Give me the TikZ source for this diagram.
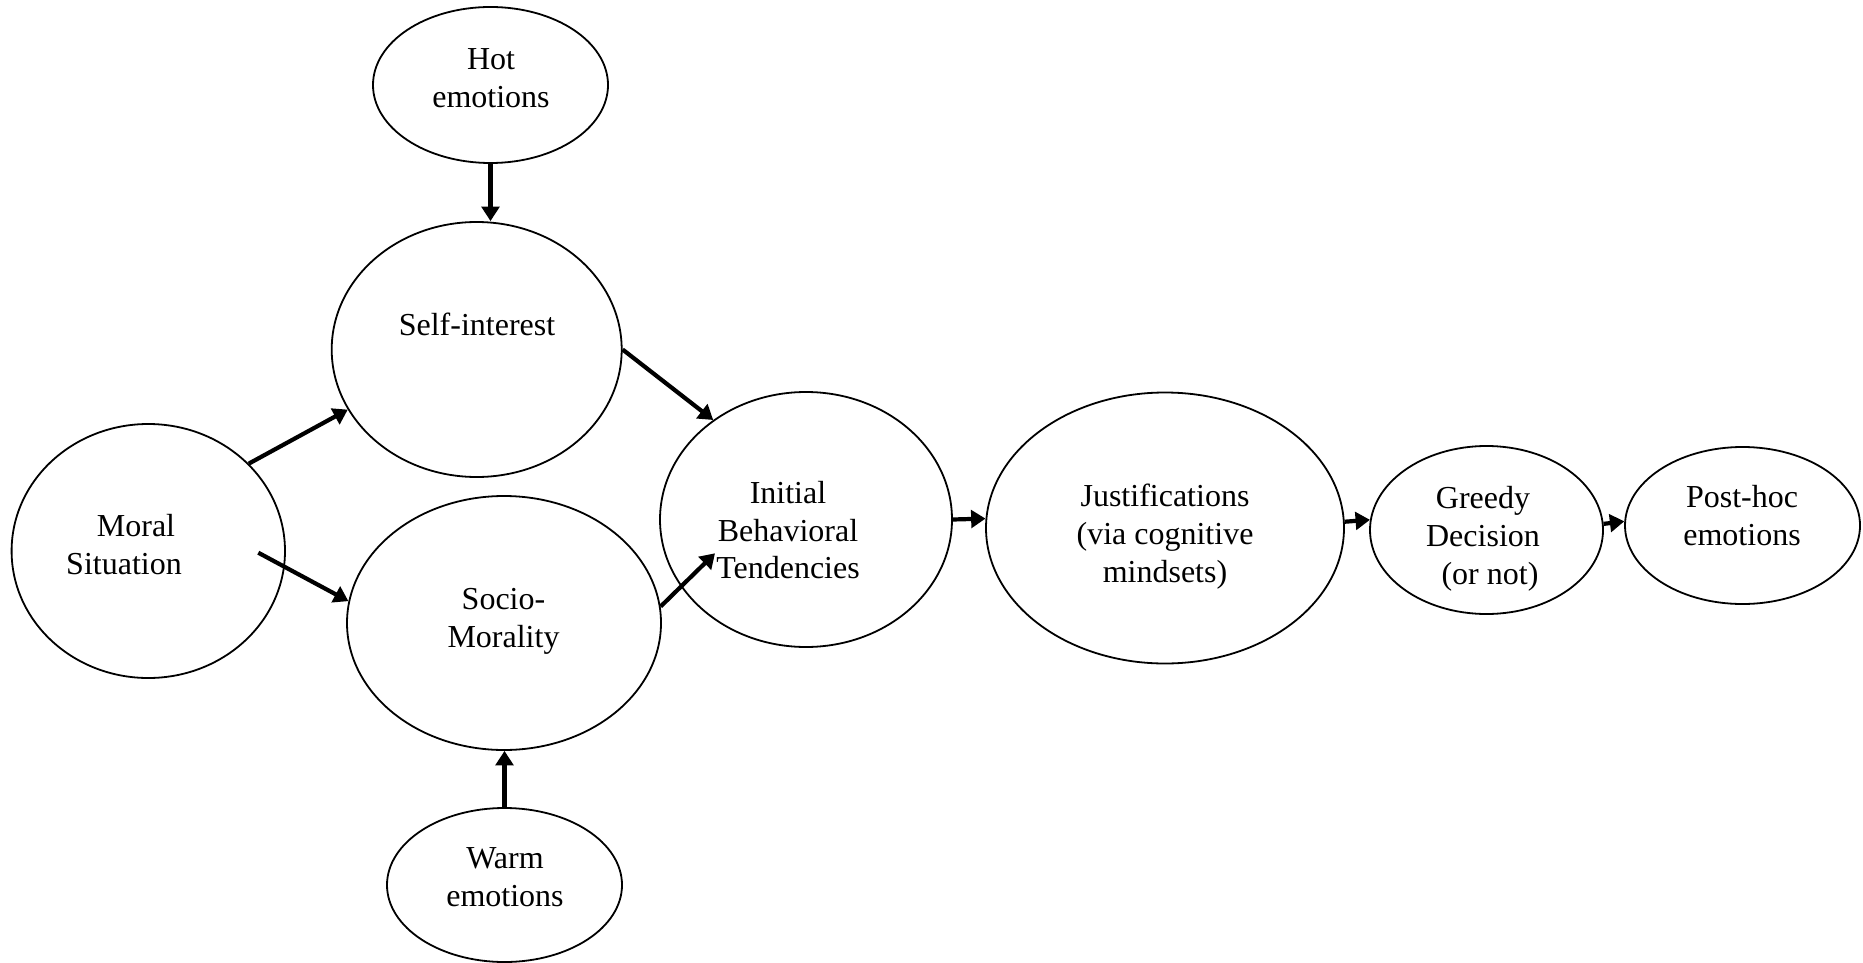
\documentclass[tikz,border=0pt]{standalone}
\usepackage{fontspec}
\setmainfont{Liberation Serif}
\usetikzlibrary{arrows.meta,shapes.geometric,calc}
\begin{document}
\begin{tikzpicture}[x=0.5pt,y=-0.5pt,
  oval/.style={ellipse,draw,line width=0.9pt,inner sep=0pt},
  lbl/.style={align=center,font=\fontsize{16}{18.9}\selectfont,inner sep=0pt},
  conn/.style={line width=2.1pt,-{Triangle[width=8.8pt,length=7.2pt]}}]
\useasboundingbox (0,0) rectangle (1863,963);
% ellipses
\node[oval,minimum width=117.5pt,minimum height=78pt] (hot) at (490.5,85) {};
\node[oval,minimum width=145pt,minimum height=127.5pt] (self) at (476.7,349.5) {};
\node[oval,minimum width=136.7pt,minimum height=127pt] (moral) at (148.3,551) {};
\node[oval,minimum width=157pt,minimum height=127pt] (socio) at (504,623) {};
\node[oval,minimum width=117.5pt,minimum height=77pt] (warm) at (504.5,885) {};
\node[oval,minimum width=146pt,minimum height=127.5pt] (init) at (806,519.5) {};
\node[oval,minimum width=179pt,minimum height=135.5pt] (justif) at (1165,528) {};
\node[oval,minimum width=116.5pt,minimum height=84pt] (greedy) at (1486.5,530) {};
\node[oval,minimum width=117.5pt,minimum height=78.5pt] (post) at (1742.5,525.5) {};
% texts
\node[lbl] (hott) at (491,80.8) {\strut Hot\\\strut emotions};
\node[lbl] (selft) at (477,328.2) {\strut Self-interest};
\node[lbl] (moralt) at (124,548.2) {\strut\hspace*{12pt}Moral\\\strut Situation};
\node[lbl] (sociot) at (503.5,620.7) {\strut Socio-\\\strut Morality};
\node[lbl] (warmt) at (505,880) {\strut Warm\\\strut emotions};
\node[lbl] (initt) at (788,533.5) {\strut Initial\\\strut Behavioral\\\strut Tendencies};
\node[lbl] (justift) at (1165,537.2) {\strut Justifications\\\strut (via cognitive\\\strut mindsets)};
\node[lbl] (greedyt) at (1483,539.2) {\strut Greedy\\\strut Decision\\\strut\hspace*{7pt}(or not)};
\node[lbl] (postt) at (1742,518.7) {\strut Post-hoc\\\strut emotions};
% free-end coordinates
\coordinate (msstart) at ($(moral.center)+(110,1.7)$);
\coordinate (sitip) at ($(init.center)+(-91,33.8)$);
% connectors
\draw[conn] (hot.south) -- (hot.south |- self.north);
\draw[conn] (warm.north) -- (warm.north |- socio.south);
\draw[conn] (moral.41.3) -- (self.205.4);
\draw[conn] (msstart) -- (socio.172.9);
\draw[conn] (self.east) -- (init.133.9);
\draw[conn] (socio.6.9) -- (sitip);
\draw[conn] (init.east) -- (justif.177.4);
\draw[conn] (justif.2.2) -- (greedy.175.6);
\draw[conn] (greedy.3.6) -- (post.178.6);
\end{tikzpicture}
\end{document}
